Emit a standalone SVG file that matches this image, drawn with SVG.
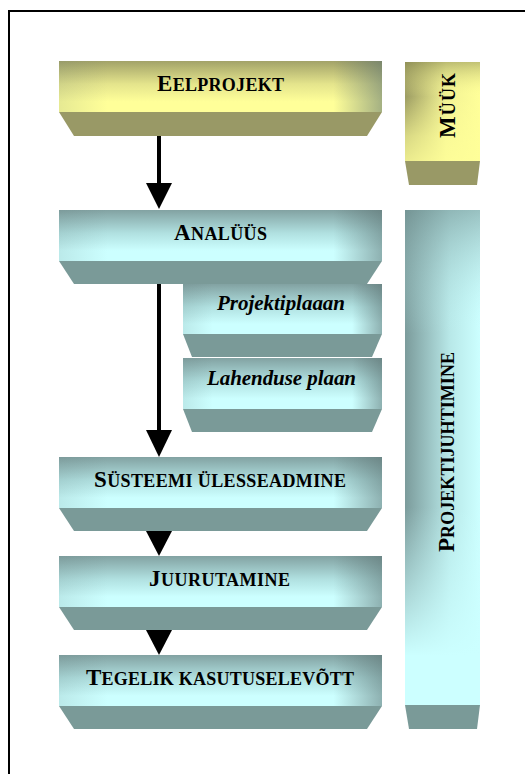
<svg xmlns="http://www.w3.org/2000/svg" width="525" height="774" viewBox="0 0 525 774">
<defs>
<linearGradient id="cyanV" x1="0" y1="0" x2="0" y2="1">
<stop offset="0" stop-color="#82a2a2"/>
<stop offset="0.45" stop-color="#b0e0e0"/>
<stop offset="0.8" stop-color="#ccffff"/>
<stop offset="1" stop-color="#ccffff"/>
</linearGradient>
<linearGradient id="yelV" x1="0" y1="0" x2="0" y2="1">
<stop offset="0" stop-color="#a2a268"/>
<stop offset="0.45" stop-color="#e4e48c"/>
<stop offset="0.8" stop-color="#ffff99"/>
<stop offset="1" stop-color="#ffff99"/>
</linearGradient>
<linearGradient id="shadeR" x1="0" y1="0" x2="1" y2="0">
<stop offset="0" stop-color="#5a7070" stop-opacity="0.15"/>
<stop offset="0.15" stop-color="#5a7070" stop-opacity="0"/>
<stop offset="0.85" stop-color="#5a7070" stop-opacity="0"/>
<stop offset="1" stop-color="#5a7070" stop-opacity="0.55"/>
</linearGradient>
<linearGradient id="cyanH" x1="0" y1="0" x2="1" y2="0">
<stop offset="0" stop-color="#7b9b9b"/>
<stop offset="0.6" stop-color="#b8e8e8"/>
<stop offset="1" stop-color="#ccffff"/>
</linearGradient>
<linearGradient id="yelH" x1="0" y1="0" x2="1" y2="0">
<stop offset="0" stop-color="#9c9c62"/>
<stop offset="0.55" stop-color="#f2f294"/>
<stop offset="1" stop-color="#ffff99"/>
</linearGradient>
<linearGradient id="cyanLow" x1="0" y1="0" x2="0" y2="1">
<stop offset="0" stop-color="#6f8f8f" stop-opacity="0.55"/>
<stop offset="0.25" stop-color="#ccffff" stop-opacity="0"/>
<stop offset="0.6" stop-color="#ccffff" stop-opacity="0"/>
<stop offset="0.9" stop-color="#ccffff" stop-opacity="1"/>
<stop offset="1" stop-color="#ccffff" stop-opacity="1"/>
</linearGradient>
<linearGradient id="yelLow" x1="0" y1="0" x2="0" y2="1">
<stop offset="0" stop-color="#85854f" stop-opacity="0.5"/>
<stop offset="0.35" stop-color="#ffff99" stop-opacity="0"/>
<stop offset="0.75" stop-color="#ffff99" stop-opacity="0.6"/>
<stop offset="1" stop-color="#ffff99" stop-opacity="0.8"/>
</linearGradient>
</defs>
<style>
.fc{fill:url(#cyanV)}
.fy{fill:url(#yelV)}
.sh{fill:url(#shadeR)}
.tc{fill:#7a9a98}
.ty{fill:#999966}
.lbl{font-family:"Liberation Serif","Times New Roman",serif;font-weight:bold;fill:#000;text-anchor:middle}
.big{font-size:23px}
.sm{font-size:18px}
.it{font-style:italic;font-size:21px}
.arr{fill:#000}
.shaft{stroke:#000;stroke-width:4;fill:none}
</style>
<rect x="0" y="0" width="525" height="774" fill="#fff"/>
<path d="M9,774 V11 H525" fill="none" stroke="#000" stroke-width="2"/>

<g id="eelprojekt">
<rect class="fy" x="59" y="61" width="323" height="51"/>
<rect class="sh" x="59" y="61" width="323" height="51"/>
<polygon class="ty" points="59,112 382,112 367,136 74,136"/>
<text class="lbl" x="220.5" y="91" textLength="127" lengthAdjust="spacing"><tspan class="big">E</tspan><tspan class="sm">ELPROJEKT</tspan></text>
</g>

<g id="myyk">
<rect x="405" y="62" width="75" height="99" fill="url(#yelH)"/>
<rect x="405" y="62" width="75" height="99" fill="url(#yelLow)"/>
<polygon class="ty" points="405,161 480,161 477,185 409,185"/>
<text class="lbl" transform="translate(455,105.5) rotate(-90)" x="0" y="0" textLength="65" lengthAdjust="spacing"><tspan class="big">M</tspan><tspan class="sm">ÜÜK</tspan></text>
</g>

<g id="analyys">
<rect class="fc" x="59" y="210" width="323" height="51"/>
<rect class="sh" x="59" y="210" width="323" height="51"/>
<polygon class="tc" points="59,261 382,261 367,284 74,284"/>
<text class="lbl" x="220.5" y="240" textLength="93" lengthAdjust="spacing"><tspan class="big">A</tspan><tspan class="sm">NALÜÜS</tspan></text>
</g>

<g id="projektiplaaan">
<rect class="fc" x="183" y="284" width="199" height="50"/>
<rect class="sh" x="183" y="284" width="199" height="50"/>
<polygon class="tc" points="183,334 382,334 372,357 192,357"/>
<text class="lbl it" x="281" y="310" textLength="128" lengthAdjust="spacing">Projektiplaaan</text>
</g>

<g id="lahenduse-plaan">
<rect class="fc" x="183" y="358" width="199" height="51"/>
<rect class="sh" x="183" y="358" width="199" height="51"/>
<polygon class="tc" points="183,409 382,409 372,432 192,432"/>
<text class="lbl it" x="281.5" y="385" textLength="149" lengthAdjust="spacing">Lahenduse plaan</text>
</g>

<g id="systeemi-ulesseadmine">
<rect class="fc" x="59" y="457" width="323" height="51"/>
<rect class="sh" x="59" y="457" width="323" height="51"/>
<polygon class="tc" points="59,508 382,508 367,531 74,531"/>
<text class="lbl" x="220" y="487" textLength="252" lengthAdjust="spacing"><tspan class="big">S</tspan><tspan class="sm">ÜSTEEMI ÜLESSEADMINE</tspan></text>
</g>

<g id="juurutamine">
<rect class="fc" x="59" y="556" width="323" height="51"/>
<rect class="sh" x="59" y="556" width="323" height="51"/>
<polygon class="tc" points="59,607 382,607 367,630 74,630"/>
<text class="lbl" x="219.5" y="586" textLength="141" lengthAdjust="spacing"><tspan class="big">J</tspan><tspan class="sm">UURUTAMINE</tspan></text>
</g>

<g id="tegelik-kasutuselevott">
<rect class="fc" x="59" y="655" width="323" height="51"/>
<rect class="sh" x="59" y="655" width="323" height="51"/>
<polygon class="tc" points="59,706 382,706 367,729 74,729"/>
<text class="lbl" x="220" y="685" textLength="268" lengthAdjust="spacing"><tspan class="big">T</tspan><tspan class="sm">EGELIK KASUTUSELEVÕTT</tspan></text>
</g>

<g id="projektijuhtimine">
<rect x="405" y="210" width="75" height="495" fill="url(#cyanH)"/>
<rect x="405" y="210" width="75" height="495" fill="url(#cyanLow)"/>
<polygon class="tc" points="405,705 480,705 477,729 409,729"/>
<text class="lbl" transform="translate(454,452) rotate(-90)" x="0" y="0" textLength="200" lengthAdjust="spacing"><tspan class="big">P</tspan><tspan class="sm">ROJEKTIJUHTIMINE</tspan></text>
</g>

<g id="connectors">
<line class="shaft" x1="159" y1="136" x2="159" y2="184"/>
<polygon class="arr" points="146,183 172,183 159,209"/>
<line class="shaft" x1="159" y1="284" x2="159" y2="431"/>
<polygon class="arr" points="146,430 172,430 159,457"/>
<polygon class="arr" points="146,531 172,531 159,556"/>
<polygon class="arr" points="146,630 172,630 159,655"/>
</g>
</svg>
